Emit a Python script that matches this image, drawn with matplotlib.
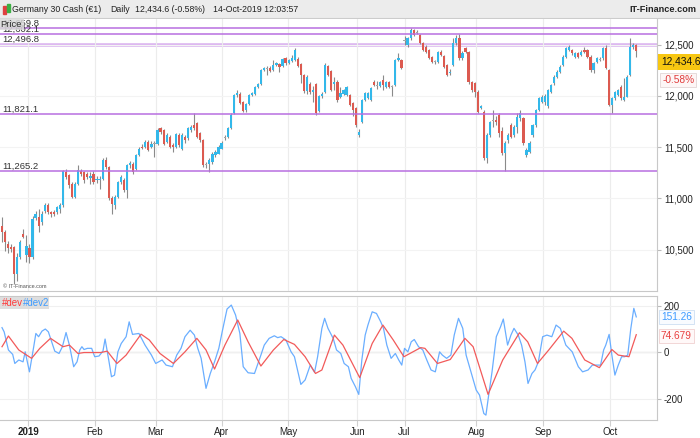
import matplotlib.pyplot as plt
from matplotlib.patches import Rectangle
import matplotlib.transforms as mtransforms

plt.rcParams['font.family'] = ['Liberation Sans', 'DejaVu Sans']

# daily candles, Germany 30 cash (index 0 = mid Dec 2018, last = 14 Oct 2019)
opens = [
    10735, 10670, 10555, 10523, 10523, 10261, 10425, 10654, 10450, 10520,
    10425, 10810, 10817, 10768, 10882, 10932, 10866, 10866, 10866, 10899,
    10932, 11258, 11226, 11144, 11013, 11144, 11265, 11258, 11242, 11200,
    11242, 11177, 11177, 11193, 11373, 11307, 11000, 10932, 11013, 11160,
    11177, 11079, 11324, 11340, 11291, 11422, 11504, 11504, 11553, 11504,
    11540, 11536, 11684, 11667, 11553, 11602, 11520, 11504, 11618, 11487,
    11602, 11586, 11667, 11716, 11733, 11635, 11569, 11340, 11340, 11356,
    11422, 11438, 11487, 11590, 11600, 11690, 11830, 12005, 12020, 11940,
    11860, 11925, 12010, 12020, 12090, 12120, 12250, 12270, 12275, 12250,
    12300, 12310, 12290, 12365, 12320, 12345, 12350, 12360, 12310, 12205,
    12045, 12120, 12040, 12120, 11850, 12000, 12040, 12290, 12240, 12120,
    12140, 11990, 12020, 12010, 12010, 11930, 11880, 11620, 11750, 11960,
    11980, 11965, 12140, 12110, 12100, 12155, 12090, 12140, 12100, 12105,
    12350, 12350, 12540, 12500, 12560, 12640, 12625, 12595, 12515, 12480,
    12445, 12380, 12340, 12335, 12430, 12385, 12302, 12225, 12300, 12513,
    12562, 12370, 12465, 12432, 12140, 12123, 12042, 11880, 11847, 11392,
    11620, 11760, 11766, 11815, 11660, 11441, 11571, 11717, 11620, 11701,
    11780, 11780, 11425, 11457, 11620, 11717, 11863, 11945, 11940, 11905,
    12042, 12123, 12188, 12237, 12302, 12383, 12448, 12448, 12383, 12416,
    12400, 12448, 12448, 12383, 12253, 12335, 12360, 12367, 12465, 12253,
    11912, 11977, 12010, 12091, 11961, 11993, 12205, 12481, 12497]
highs = [
    10823, 10690, 10590, 10560, 10540, 10470, 10600, 10700, 10640, 10560,
    10830, 10880, 10899, 10880, 10960, 10960, 10880, 10890, 10930, 10960,
    11280, 11290, 11240, 11160, 11160, 11324, 11290, 11270, 11260, 11260,
    11270, 11215, 11215, 11390, 11400, 11320, 11020, 11030, 11170, 11226,
    11200, 11340, 11370, 11360, 11430, 11500, 11530, 11570, 11570, 11560,
    11560, 11690, 11700, 11680, 11640, 11620, 11540, 11640, 11640, 11635,
    11620, 11700, 11720, 11831, 11750, 11650, 11580, 11360, 11390, 11450,
    11470, 11520, 11560, 11620, 11700, 11830, 12020, 12060, 12040, 11950,
    11935, 12015, 12040, 12100, 12130, 12260, 12285, 12290, 12290, 12350,
    12335, 12320, 12370, 12380, 12360, 12400, 12465, 12380, 12320, 12215,
    12200, 12140, 12100, 12125, 12010, 12040, 12320, 12300, 12250, 12180,
    12160, 12090, 12070, 12100, 12020, 11940, 11890, 11680, 11970, 12035,
    12040, 12085, 12160, 12150, 12150, 12205, 12150, 12150, 12110, 12360,
    12415, 12360, 12580, 12570, 12660, 12655, 12640, 12605, 12530, 12495,
    12460, 12390, 12355, 12440, 12445, 12395, 12310, 12260, 12560, 12595,
    12600, 12440, 12480, 12440, 12150, 12140, 12060, 11915, 11860, 11640,
    11760, 11863, 11800, 11830, 11700, 11560, 11640, 11740, 11720, 11830,
    11863, 11790, 11490, 11560, 11730, 11870, 11990, 12010, 12020, 12070,
    12120, 12200, 12250, 12300, 12395, 12475, 12500, 12460, 12430, 12430,
    12450, 12481, 12460, 12395, 12330, 12380, 12375, 12480, 12497, 12265,
    11990, 12050, 12070, 12110, 12172, 12200, 12562, 12520, 12510]
lows = [
    10572, 10490, 10473, 10480, 10163, 10200, 10410, 10610, 10380, 10375,
    10410, 10790, 10670, 10740, 10860, 10850, 10820, 10830, 10850, 10860,
    10920, 11190, 11100, 11000, 11000, 11130, 11220, 11150, 11190, 11144,
    11140, 11150, 11095, 11180, 11290, 10990, 10850, 10900, 11000, 11140,
    11060, 11007, 11300, 11240, 11280, 11410, 11480, 11490, 11460, 11490,
    11406, 11520, 11630, 11520, 11540, 11490, 11455, 11490, 11500, 11470,
    11540, 11570, 11650, 11670, 11590, 11550, 11310, 11300, 11258, 11340,
    11400, 11430, 11480, 11575, 11590, 11680, 11820, 11990, 11920, 11840,
    11845, 11910, 11995, 12010, 12080, 12110, 12240, 12205, 12230, 12240,
    12290, 12235, 12280, 12300, 12310, 12335, 12340, 12280, 12125, 12030,
    12020, 12020, 11945, 11815, 11840, 11980, 12030, 12190, 12050, 12060,
    11940, 11980, 12010, 12000, 11905, 11800, 11700, 11600, 11740, 11950,
    11970, 11955, 12095, 12070, 12090, 12060, 12080, 12080, 11995, 12095,
    12340, 12260, 12497, 12480, 12550, 12580, 12600, 12505, 12440, 12420,
    12360, 12325, 12315, 12325, 12385, 12270, 12190, 12200, 12290, 12500,
    12350, 12350, 12420, 12120, 12040, 11990, 11830, 11870, 11380, 11343,
    11600, 11700, 11720, 11600, 11425, 11268, 11540, 11590, 11600, 11640,
    11760, 11520, 11400, 11440, 11600, 11700, 11850, 11930, 11915, 11880,
    12030, 12110, 12170, 12225, 12290, 12370, 12440, 12400, 12370, 12370,
    12390, 12420, 12370, 12237, 12221, 12320, 12340, 12355, 12260, 11900,
    11831, 11960, 11995, 11960, 11950, 11985, 12195, 12460, 12383]
closes = [
    10670, 10572, 10522, 10505, 10261, 10425, 10572, 10627, 10540, 10425,
    10800, 10850, 10735, 10850, 10932, 10866, 10850, 10850, 10915, 10932,
    11268, 11210, 11128, 11013, 11144, 11275, 11242, 11177, 11210, 11215,
    11160, 11193, 11193, 11373, 11307, 11000, 10948, 11013, 11160, 11210,
    11079, 11324, 11347, 11260, 11422, 11487, 11490, 11553, 11471, 11536,
    11530, 11667, 11651, 11536, 11618, 11504, 11504, 11628, 11520, 11618,
    11569, 11684, 11700, 11684, 11602, 11569, 11324, 11330, 11373, 11438,
    11455, 11504, 11543, 11600, 11690, 11815, 12005, 12030, 11930, 11850,
    11925, 12010, 12025, 12090, 12120, 12250, 12275, 12260, 12245, 12300,
    12320, 12280, 12360, 12320, 12350, 12370, 12450, 12290, 12205, 12045,
    12180, 12040, 12060, 11830, 12000, 12020, 12300, 12205, 12060, 12140,
    11960, 12030, 12055, 12090, 11915, 11860, 11717, 11650, 11960, 12025,
    12030, 12075, 12107, 12100, 12140, 12110, 12140, 12090, 12090, 12350,
    12370, 12270, 12545, 12560, 12640, 12595, 12615, 12515, 12450, 12430,
    12370, 12335, 12330, 12430, 12400, 12286, 12205, 12237, 12513, 12562,
    12367, 12420, 12432, 12140, 12058, 12042, 11847, 11905, 11392, 11620,
    11750, 11755, 11750, 11636, 11441, 11538, 11620, 11603, 11701, 11798,
    11831, 11538, 11473, 11538, 11717, 11863, 11977, 11993, 12000, 12058,
    12107, 12188, 12237, 12286, 12383, 12465, 12481, 12416, 12416, 12383,
    12432, 12432, 12383, 12253, 12318, 12367, 12355, 12465, 12270, 11912,
    11977, 12042, 12058, 11977, 11993, 12188, 12481, 12497, 12434.6]

levels = [12659.8, 12602.1, 12496.8, 11821.1, 11265.2]
level_labels = ['12,659.8', '12,602.1', '12,496.8', '11,821.1', '11,265.2']

# indicator panel, read at day positions
dev_x = [0, 2.1, 5.5, 9.7, 12.4, 15.9, 20.0, 22.1, 24.9, 26.9,
         32.4, 34.5, 37.7, 40.7, 45.6, 48.3, 51.8, 56.2, 60.0, 63.9,
         66.9, 69.7, 73.1, 77.3, 80.7, 84.9, 89.0, 92.4, 95.9, 99.4,
         102.8, 104.9, 109.0, 111.8, 117.3, 121.4, 124.9, 128.3, 131.8, 137.3,
         138.7, 142.8, 147.0, 151.8, 154.5, 159.4, 164.2, 169.7, 172.4, 175.6,
         179.3, 184.2, 186.9, 191.1, 195.9, 200.0, 202.1, 205.6, 208]
dev = [23, 69, 9, -27, 16, 59, 23, 30, -6, -2,
       -2, 4, -49, -13, 77, 52, -6, -49, 1, 59,
       9, -73, 30, 138, 44, -60, 9, 54, 33, -20,
       -92, -77, 73, 30, -110, 37, 116, 52, -20, 19,
       16, -49, -32, 59, 23, -182, -34, 83, 44, -49,
       9, 90, 59, -34, -67, 11, -13, -20, 74.679]

dev2_x = [0, 0.7, 2.1, 3.5, 4.2, 5.5, 6.9, 7.6, 9.0, 10.4,
          11.1, 12.0, 13.1, 14.2, 15.2, 15.9, 17.3, 18.7, 19.8, 21.0,
          22.1, 23.5, 24.6, 25.5, 26.2, 26.9, 28.0, 29.4, 30.4, 31.8,
          33.1, 33.8, 35.0, 35.9, 36.9, 38.0, 39.1, 40.7, 41.7, 42.8,
          44.9, 46.9, 49.0, 50.4, 52.5, 53.8, 55.9, 57.3, 58.7, 60.0,
          61.7, 63.1, 64.2, 65.3, 66.9, 68.3, 69.7, 71.1, 72.2, 73.8,
          75.2, 76.6, 78.0, 79.1, 80.7, 82.8, 84.9, 86.0, 87.6, 89.3,
          90.4, 91.5, 93.1, 94.8, 95.9, 98.0, 99.4, 101.1, 102.5, 103.5,
          104.9, 105.8, 106.9, 108.6, 109.7, 111.1, 112.2, 113.6, 114.5, 115.9,
          117.0, 118.0, 119.1, 120.0, 121.4, 122.8, 124.2, 125.1, 126.2, 127.6,
          129.0, 130.1, 131.1, 132.0, 133.1, 134.2, 135.2, 136.6, 138.0, 139.3,
          140.7, 142.1, 143.5, 144.4, 145.8, 147.2, 148.3, 149.7, 151.1, 152.2,
          153.8, 155.5, 156.6, 158.0, 158.7, 159.6, 160.7, 162.1, 163.5, 164.4,
          165.8, 166.9, 167.9, 169.3, 170.4, 171.5, 172.5, 173.8, 174.8, 175.9,
          177.3, 178.7, 180.3, 181.7, 183.1, 184.9, 187.0, 189.0, 190.4, 192.2,
          193.6, 195.0, 196.3, 197.3, 198.0, 199.1, 200.0, 201.0, 202.1, 203.2,
          204.2, 205.2, 206.2, 207.2, 208]
dev2 = [105, 87, 9, -10, -49, -34, -42, 1, -85, 23,
        80, 66, 90, 99, 87, 59, 4, -6, 23, 84,
        30, -63, -42, 9, 23, 11, 16, 16, -20, -17,
        4, 56, -34, -106, -99, 1, 37, 66, 130, 76,
        80, 30, -13, -49, -34, -56, -63, -13, 16, 66,
        94, 73, 16, -27, -156, -92, -42, 16, 87, 185,
        202, 159, 80, -63, -89, -92, -13, 30, 59, 70,
        62, 66, 52, 1, -20, -139, -120, -56, -87, -20,
        102, 145, 102, 59, 9, -6, -49, -63, -113, -149,
        -182, -34, 73, 116, 173, 166, 130, 102, 30, -27,
        -6, -34, -56, 16, 1, 44, 54, 23, 9, -34,
        -77, -85, 1, -13, -27, -13, 73, 145, 102, -13,
        -85, -163, -185, -264, -271, -185, -85, 66, 109, 142,
        30, 73, 102, 73, 30, -42, -135, -92, -77, -42,
        66, 73, 66, 116, 102, 30, 1, -63, -85, -77,
        -56, -56, -56, 9, 30, 76, -13, -99, -56, -20,
        -20, -13, 100, 188, 151.26]

month_pos = [8.6, 30.5, 50.5, 72.0, 93.8, 116.5, 132.0, 155.6, 177.5, 199.5]
month_lbl = ['2019', 'Feb', 'Mar', 'Apr', 'May', 'Jun', 'Jul', 'Aug', 'Sep', 'Oct']

UP, DOWN, FLAT = '#33b8ea', '#dc5a50', '#a6a6a6'
RED, BLUE = '#f25a5a', '#6aaeff'
W, H = 700, 438


def box(x0, y0, x1, y1):
    return [x0 / W, 1 - y1 / H, (x1 - x0) / W, (y1 - y0) / H]


fig = plt.figure(figsize=(7, 4.38), dpi=100)

# title bar
hdr = fig.add_axes(box(0, 0, 700, 18))
hdr.set_facecolor('#ececec')
hdr.set_xticks([])
hdr.set_yticks([])
for s in hdr.spines.values():
    s.set_visible(False)
hdr.spines['bottom'].set_visible(True)
hdr.spines['bottom'].set_color('#cccccc')
hdr.add_patch(Rectangle((3 / W, 0.25), 3 / W, 0.4, color='#e04040', transform=hdr.transAxes))
hdr.add_patch(Rectangle((7 / W, 0.35), 3 / W, 0.45, color='#3cb043', transform=hdr.transAxes))
for xp, t in [(12, 'Germany 30 Cash (€1)'), (110, 'Daily'), (135, '12,434.6 (-0.58%)'),
              (213, '14-Oct-2019 12:03:57')]:
    hdr.text(xp / W, 0.48, t, fontsize=6.3, color='#222222', va='center', transform=hdr.transAxes)
hdr.text(696 / W, 0.48, 'IT-Finance.com', fontsize=6.6, fontweight='bold', color='#222222',
         va='center', ha='right', transform=hdr.transAxes)

# price panel
ax = fig.add_axes(box(0, 19, 657, 291))
idx = list(range(len(closes)))
ax.vlines(idx, lows, highs, color='#8a8a8a', lw=0.8, zorder=2)
bottoms = [min(o, c) for o, c in zip(opens, closes)]
heights = [max(abs(c - o), 9) for o, c in zip(opens, closes)]
cols = [FLAT if abs(c - o) < 12 else (UP if c > o else DOWN) for o, c in zip(opens, closes)]
ax.bar(idx, heights, bottom=bottoms, width=0.72, color=cols, lw=0, zorder=3)

for lv, lb in zip(levels, level_labels):
    if lb == '12,496.8':
        ax.axhline(lv, color='#dcb6f0', lw=2.6, zorder=1)
    else:
        ax.axhline(lv, color='#b86fe0', lw=1.1, zorder=4)
    ax.text(0.003, lv + 8, lb, fontsize=6.8, color='#333333', va='bottom', ha='left',
            transform=mtransforms.blended_transform_factory(ax.transAxes, ax.transData), zorder=5)
ax.text(0.001, 0.998, 'Price', fontsize=6.8, color='#333333', va='top', ha='left', transform=ax.transAxes,
        zorder=6, bbox=dict(boxstyle='square,pad=0.15', fc='#d9d9d9', ec='none', alpha=0.85))
ax.text(0.004, 0.012, '© IT-Finance.com', fontsize=4, color='#555555', transform=ax.transAxes)

ax.set_xlim(-0.66, 214.8)
ax.set_ylim(10098, 12750)
ax.yaxis.tick_right()
ax.set_yticks([10500, 11000, 11500, 12000, 12500], ['10,500', '11,000', '11,500', '12,000', '12,500'])
ax.set_xticks(month_pos)
ax.tick_params(axis='x', length=0, labelbottom=False)
ax.tick_params(axis='y', length=3, color='#bbbbbb', labelsize=7, labelcolor='#222222', pad=2)
ax.grid(axis='x', color='#ececec', lw=0.8, zorder=0)
ax.grid(axis='y', color='#f3f3f3', lw=0.8, zorder=0)
for s in ax.spines.values():
    s.set_color('#c8c8c8')
ax.spines['left'].set_visible(False)
ax.spines['top'].set_visible(False)

ax.text(1.006, 0.842, '12,434.6', fontsize=7.3, color='#111111', va='center', ha='left', transform=ax.transAxes,
        bbox=dict(boxstyle='square,pad=0.25', fc='#f7c712', ec='none'), clip_on=False)
ax.text(1.008, 0.776, '-0.58%', fontsize=7.3, color='#e03c3c', va='center', ha='left', transform=ax.transAxes,
        bbox=dict(boxstyle='square,pad=0.2', fc='#fdf6f6', ec='#e2d6d6', lw=0.6), clip_on=False)

# indicator panel
ax2 = fig.add_axes(box(0, 296, 657, 420))
ax2.plot(dev2_x, dev2, color=BLUE, lw=0.9, zorder=3)
ax2.plot(dev_x, dev, color=RED, lw=0.9, zorder=4)
ax2.axhline(0, color='#d2d2d2', lw=0.9, zorder=1)
ax2.set_xlim(-0.66, 214.8)
ax2.set_ylim(-292, 241)
ax2.yaxis.tick_right()
ax2.set_yticks([-200, 0, 200], ['-200', '0', '200'])
ax2.set_xticks(month_pos, month_lbl)
ax2.get_xticklabels()[0].set_fontweight('bold')
ax2.tick_params(axis='x', length=4, color='#d0d0d0', labelsize=7, labelcolor='#222222', pad=1)
ax2.tick_params(axis='y', length=3, color='#bbbbbb', labelsize=7, labelcolor='#222222', pad=2)
ax2.grid(axis='x', color='#ececec', lw=0.8, zorder=0)
ax2.grid(axis='y', color='#f0f0f0', lw=0.8, zorder=0)
for s in ax2.spines.values():
    s.set_color('#c8c8c8')
ax2.spines['left'].set_visible(False)

ax2.add_patch(Rectangle((0, 0.895), 49 / 657, 0.097, transform=ax2.transAxes, fc='#dedede', ec='none', zorder=5))
ax2.text(2 / 657, 0.943, '#dev', color='#ff3b3b', fontsize=7, va='center', transform=ax2.transAxes, zorder=6)
ax2.text(23 / 657, 0.943, '#dev2', color='#3d9bff', fontsize=7, va='center', transform=ax2.transAxes, zorder=6)

bt2 = mtransforms.blended_transform_factory(ax2.transAxes, ax2.transData)
ax2.text(1.006, dev2[-1], '151.26', fontsize=7.3, color='#3d9bff', va='center', ha='left', transform=bt2,
         bbox=dict(boxstyle='square,pad=0.2', fc='#f8fbff', ec='#cddff3', lw=0.6), clip_on=False)
ax2.text(1.006, dev[-1] - 5, '74.679', fontsize=7.3, color='#e84040', va='center', ha='left', transform=bt2,
         bbox=dict(boxstyle='square,pad=0.2', fc='#fff8f8', ec='#f0d0d0', lw=0.6), clip_on=False)

fig.savefig('out.png', dpi=100)
